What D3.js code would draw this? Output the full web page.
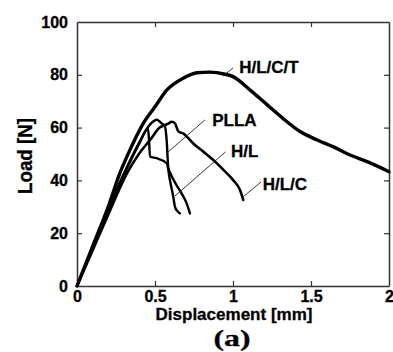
<!DOCTYPE html>
<html>
<head>
<meta charset="utf-8">
<script src="https://cdn.jsdelivr.net/npm/d3@7/dist/d3.min.js"></script>
<style>
	html, body { margin: 0; padding: 0; background: #fff; }
	svg { display: block; }
	.vis text { font-family: "Liberation Sans", Arial, sans-serif; font-weight: bold; fill: #000; stroke: #000; stroke-width: 0.3px; }
	.vis .caption { font-family: "Liberation Serif", "Times New Roman", serif; }
</style>
</head>
<body>
<svg id="chart" width="393" height="352"></svg>
<script>
var xTicks = [0, 0.5, 1, 1.5, 2];
var xTickLabels = ['0', '0.5', '1', '1.5', '2'];
var yTicks = [0, 20, 40, 60, 80, 100];
var yTickLabels = ['0', '20', '40', '60', '80', '100'];

var seriesNames = ['H/L/C/T', 'PLLA', 'H/L', 'H/L/C'];

// displacement [mm] / load [N]
var hlctX = [0, 0.1, 0.2, 0.275, 0.32, 0.425, 0.5, 0.575, 0.68, 0.77, 0.85, 0.95, 1.0, 1.11, 1.22, 1.32, 1.43, 1.54, 1.64, 1.75, 1.86, 2.0];
var hlctY = [0, 15, 30, 42.8, 49, 61.6, 67.9, 74.2, 78.7, 80.8, 81, 80.2, 79.3, 74.2, 68.6, 63.5, 58.5, 55.3, 52.8, 49.6, 47.1, 43.3];

var pllaX = [0, 0.1, 0.2, 0.3, 0.4, 0.47, 0.51, 0.535, 0.564, 0.575, 0.585, 0.6, 0.635, 0.671, 0.703, 0.724];
var pllaY = [0, 14.5, 29, 42.5, 54.5, 61.3, 63, 62, 60.3, 55, 45, 42.5, 38.5, 35, 31.3, 27.5];

var hlX = [0, 0.1, 0.2, 0.3, 0.4, 0.455, 0.462, 0.468, 0.51, 0.575, 0.596, 0.617, 0.628, 0.645, 0.66];
var hlY = [0, 14.5, 28.5, 42, 54, 59.7, 55, 49, 48.4, 46.5, 40, 33.8, 30, 28.3, 27.5];

var hlcX = [0, 0.1, 0.2, 0.32, 0.4, 0.468, 0.53, 0.585, 0.607, 0.628, 0.65, 0.68, 0.745, 0.81, 0.874, 0.94, 1.0, 1.045, 1.066];
var hlcY = [0, 13.5, 27, 42.7, 50.3, 55.3, 60, 61.5, 62.2, 61.6, 58.5, 57.8, 54, 50.9, 47.7, 43.9, 40.2, 36.4, 32.6];

// label text position and leader line, in data units
var labelX = [1.04, 0.867, 0.987, 1.19];
var labelY = [80.5, 60.7, 48.75, 36.4];
var leaderFrom = [[1.0, 82.6], [0.82, 62.9], [0.952, 50.8], [1.18, 39.4]];
var leaderTo = [[0.936, 79.5], [0.575, 50.3], [0.628, 34.1], [1.067, 33.9]];

function LoadChart(svg, p) {
	var params = {
		leftMargin: 77,
		topMargin: 22,
		graphWidth: 312,
		graphHeight: 264,
	};
	Object.keys(p || {}).forEach(function(key) { params[key] = p[key]; });

	this.draw = function() {
		svg.attr('class', 'vis');

		var xScale = d3.scaleLinear().domain([0, 2]).range([0, params.graphWidth]);
		var yScale = d3.scaleLinear().domain([0, 100]).range([params.graphHeight, 0]);

		var graph = svg.append('g')
			.attr('transform', 'translate(' + params.leftMargin + ',' + params.topMargin + ')');

		function drawAxes() {
			var fmtX = function(d) { return xTickLabels[xTicks.indexOf(d)]; };
			var fmtY = function(d) { return yTickLabels[yTicks.indexOf(d)]; };

			var bottom = graph.append('g')
				.attr('transform', 'translate(0,' + params.graphHeight + ')')
				.call(d3.axisBottom(xScale).tickValues(xTicks).tickFormat(fmtX).tickSizeInner(-5).tickSizeOuter(0).tickPadding(5));
			var top = graph.append('g')
				.call(d3.axisTop(xScale).tickValues(xTicks.slice(1, -1)).tickFormat('').tickSizeInner(-5).tickSizeOuter(0));
			var left = graph.append('g')
				.call(d3.axisLeft(yScale).tickValues(yTicks).tickFormat(fmtY).tickSizeInner(-5).tickSizeOuter(0).tickPadding(9));
			var right = graph.append('g')
				.attr('transform', 'translate(' + params.graphWidth + ',0)')
				.call(d3.axisRight(yScale).tickValues(yTicks.slice(1, -1)).tickFormat('').tickSizeInner(-5).tickSizeOuter(0));

			[bottom, top, left, right].forEach(function(a) {
				a.select('.domain').attr('stroke', '#333').attr('stroke-width', 1.5);
				a.selectAll('.tick line').attr('stroke', '#333').attr('stroke-width', 1.2);
				a.selectAll('.tick text')
					.style('font-size', '16px')
					.style('font-family', '"Liberation Sans", Arial, sans-serif')
					.style('font-weight', 'bold')
					.attr('fill', '#000');
			});
			// no ticks on the frame corners
			bottom.selectAll('.tick line').filter(function(d) { return d === 0 || d === 2; }).remove();
			left.selectAll('.tick line').filter(function(d) { return d === 0 || d === 100; }).remove();

			svg.append('text')
				.attr('x', params.leftMargin + xScale(1) + 1)
				.attr('y', 320)
				.attr('text-anchor', 'middle')
				.attr('textLength', 157)
				.attr('lengthAdjust', 'spacingAndGlyphs')
				.style('font-size', '17px')
				.text('Displacement [mm]');

			svg.append('text')
				.attr('transform', 'translate(32,' + (params.topMargin + yScale(50) + 2) + ') rotate(-90)')
				.attr('text-anchor', 'middle')
				.attr('textLength', 76)
				.attr('lengthAdjust', 'spacingAndGlyphs')
				.style('font-size', '20px')
				.text('Load [N]');

			svg.append('text')
				.classed('caption', true)
				.attr('x', 232)
				.attr('y', 346)
				.attr('text-anchor', 'middle')
				.attr('textLength', 37)
				.attr('lengthAdjust', 'spacingAndGlyphs')
				.style('font-size', '24px')
				.text('(a)');
		}
		drawAxes();

		function drawData() {
			var series = [
				{ name: seriesNames[0], xs: hlctX, ys: hlctY, width: 3.4 },
				{ name: seriesNames[1], xs: pllaX, ys: pllaY, width: 2.4 },
				{ name: seriesNames[2], xs: hlX, ys: hlY, width: 2.4 },
				{ name: seriesNames[3], xs: hlcX, ys: hlcY, width: 2.6 },
			];
			var line = d3.line()
				.curve(d3.curveMonotoneX)
				.x(function(d) { return xScale(d[0]); })
				.y(function(d) { return yScale(d[1]); });

			graph.selectAll('.curve').data(series).enter().append('path')
				.classed('curve', true)
				.attr('d', function(s) { return line(d3.zip(s.xs, s.ys)); })
				.attr('fill', 'none')
				.attr('stroke', '#000')
				.attr('stroke-width', function(s) { return s.width; })
				.attr('stroke-linejoin', 'round')
				.attr('stroke-linecap', 'round');
		}
		drawData();

		function drawLabels() {
			graph.selectAll('.leader').data(seriesNames).enter().append('line')
				.classed('leader', true)
				.attr('x1', function(d, i) { return xScale(leaderFrom[i][0]); })
				.attr('y1', function(d, i) { return yScale(leaderFrom[i][1]); })
				.attr('x2', function(d, i) { return xScale(leaderTo[i][0]); })
				.attr('y2', function(d, i) { return yScale(leaderTo[i][1]); })
				.attr('stroke', '#222')
				.attr('stroke-width', 0.9);

			graph.selectAll('.label').data(seriesNames).enter().append('text')
				.classed('label', true)
				.attr('x', function(d, i) { return xScale(labelX[i]); })
				.attr('y', function(d, i) { return yScale(labelY[i]); })
				.style('font-size', '17px')
				.text(function(d) { return d; });
		}
		drawLabels();
	};
}

new LoadChart(d3.select('#chart'), {}).draw();
</script>
</body>
</html>
